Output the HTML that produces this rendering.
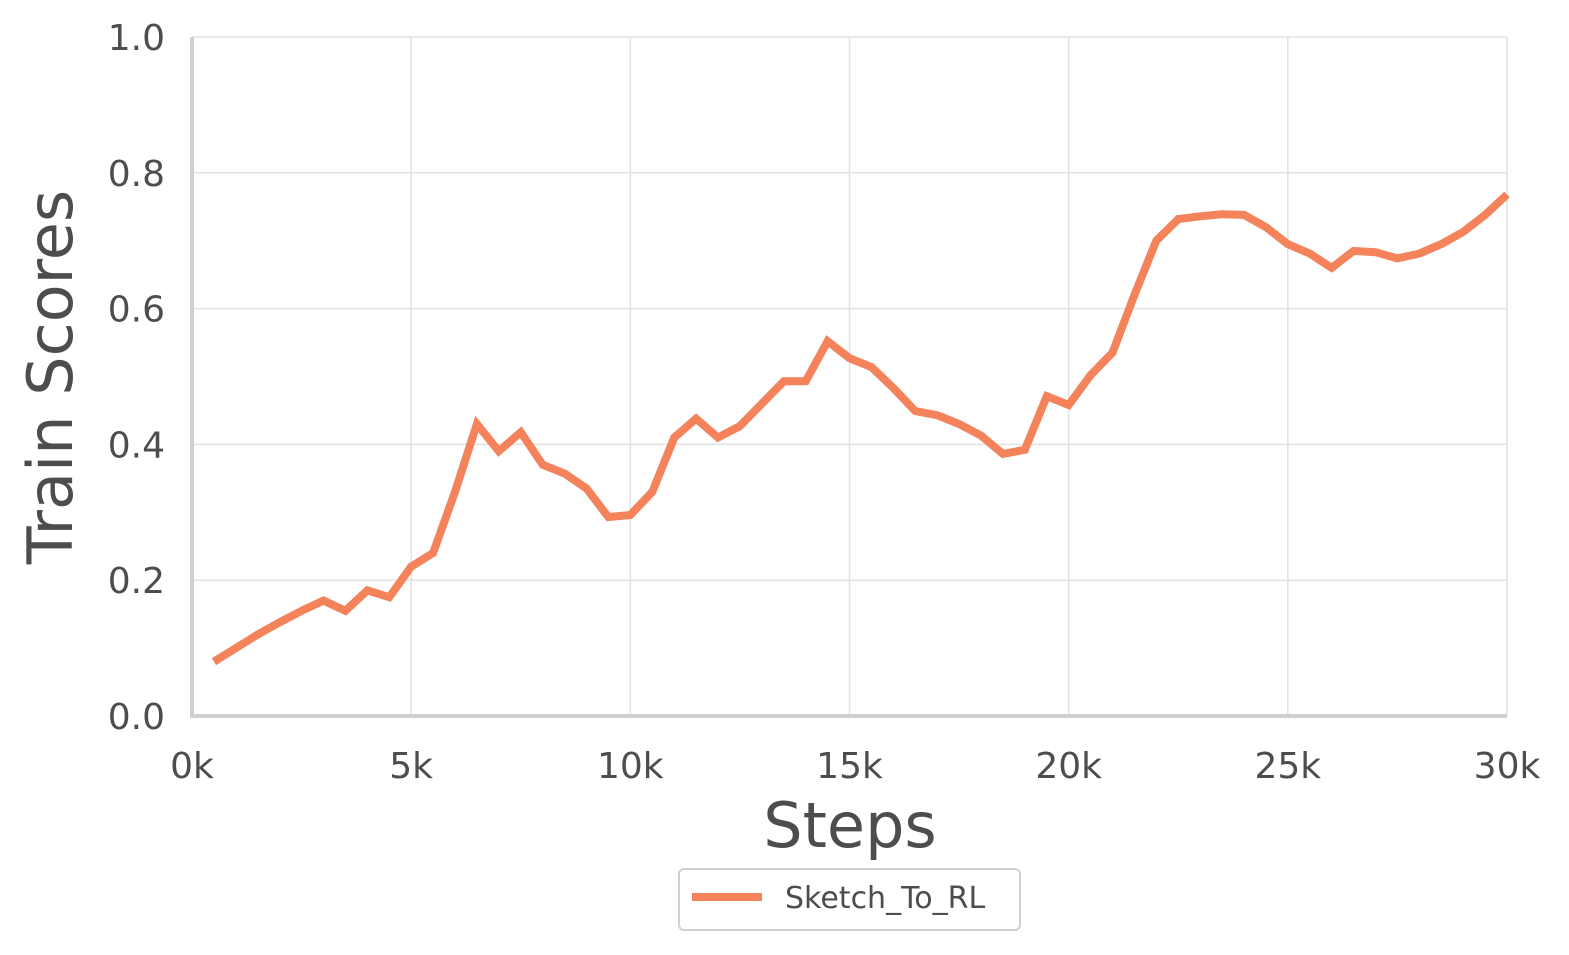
<!DOCTYPE html>
<html><head><meta charset="utf-8"><style>
body{margin:0;background:#fff;}
svg text{font-family:"DejaVu Sans","Liberation Sans",sans-serif;fill:#4d4d4d;}
</style></head><body>
<svg width="1569" height="950" viewBox="0 0 1569 950">
<g id="grid"></g>
<g id="axes"></g>
<path id="line" fill="none" stroke="#f4825a" stroke-width="8" stroke-linejoin="miter"/>
<text x="850" y="847" font-size="62" text-anchor="middle">Steps</text>
<text transform="translate(72,377) rotate(-90)" font-size="62" text-anchor="middle">Train Scores</text>
<g>
<rect x="679" y="869" width="341" height="61" rx="5" fill="#fff" stroke="#d0d0d0" stroke-width="2"/>
<line x1="692" y1="897" x2="762" y2="897" stroke="#f4825a" stroke-width="8"/>
<text x="785" y="908" font-size="30">Sketch_To_RL</text>
</g>
</svg>
<script>
const steps=[500,1000,1500,2000,2500,3000,3500,4000,4500,5000,5500,6000,6500,7000,7500,8000,8500,9000,9500,10000,10500,11000,11500,12000,12500,13000,13500,14000,14500,15000,15500,16000,16500,17000,17500,18000,18500,19000,19500,20000,20500,21000,21500,22000,22500,23000,23500,24000,24500,25000,25500,26000,26500,27000,27500,28000,28500,29000,29500,30000];
const scores=[0.080,0.100,0.120,0.138,0.155,0.170,0.155,0.185,0.175,0.220,0.240,0.330,0.430,0.390,0.418,0.370,0.357,0.335,0.293,0.296,0.330,0.410,0.438,0.410,0.427,0.460,0.493,0.493,0.552,0.527,0.514,0.483,0.449,0.443,0.430,0.413,0.386,0.392,0.471,0.458,0.502,0.535,0.620,0.700,0.732,0.736,0.739,0.738,0.720,0.695,0.681,0.660,0.685,0.683,0.674,0.681,0.695,0.713,0.738,0.768];
const xTicks=[0,5000,10000,15000,20000,25000,30000];
const xTickLabels=["0k","5k","10k","15k","20k","25k","30k"];
const yTicks=[0,0.2,0.4,0.6,0.8,1.0];
const yTickLabels=["0.0","0.2","0.4","0.6","0.8","1.0"];
const X0=192,X1=1507,Y0=716,Y1=37;
const sx=v=>X0+(v-0)/(30000)*(X1-X0);
const sy=v=>Y0-(v-0)/1*(Y0-Y1);
const NS="http://www.w3.org/2000/svg";
const grid=document.getElementById('grid'),axes=document.getElementById('axes');
function mk(tag,attrs,parent){const e=document.createElementNS(NS,tag);for(const k in attrs)e.setAttribute(k,attrs[k]);parent.appendChild(e);return e;}
xTicks.forEach((t,i)=>{
  const g=mk('line',{x1:sx(t),x2:sx(t),y1:Y1,y2:Y0,stroke:'#e2e2e2','stroke-width':1.5},grid);
  
  
  const tx=mk('text',{x:sx(t),y:778,'font-size':36,'text-anchor':'middle'},axes);
  tx.textContent=xTickLabels[i];
  
  
});
yTicks.forEach((t,i)=>{
  const g=mk('line',{x1:X0,x2:X1,y1:sy(t),y2:sy(t),stroke:'#e2e2e2','stroke-width':1.5},grid);
  
  
  const tx=mk('text',{x:165,y:sy(t)+13,'font-size':36,'text-anchor':'end'},axes);
  tx.textContent=yTickLabels[i];
  
  
});
const la=mk('line',{x1:X0,x2:X0,y1:Y1,y2:Y0+2,stroke:'#d0d0d0','stroke-width':4},axes);


const ba=mk('line',{x1:X0-2,x2:X1,y1:Y0,y2:Y0,stroke:'#d0d0d0','stroke-width':4},axes);


document.getElementById('line').setAttribute('d',steps.map((s,i)=>(i?'L':'M')+sx(s).toFixed(1)+','+sy(scores[i]).toFixed(1)).join(''));
</script>
</body></html>
